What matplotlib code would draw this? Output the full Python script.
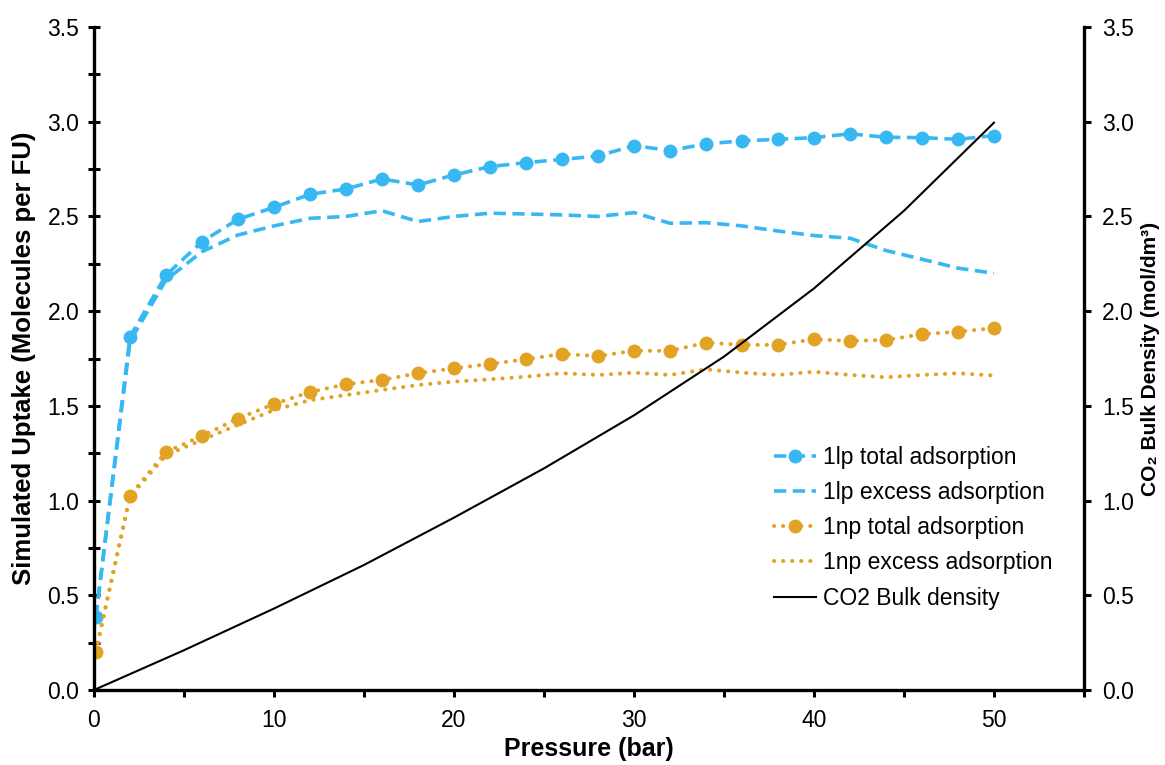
import matplotlib
matplotlib.use('Agg')
import matplotlib.pyplot as plt
from matplotlib.ticker import MultipleLocator, FormatStrFormatter

plt.rcParams['font.family'] = ['Liberation Sans', 'DejaVu Sans']

# ---- data ----
pressure = [0.1, 2, 4, 6, 8, 10, 12, 14, 16, 18, 20, 22, 24, 26, 28, 30,
            32, 34, 36, 38, 40, 42, 44, 46, 48, 50]
lp_total = [0.384, 1.865, 2.19, 2.367, 2.485, 2.548, 2.617, 2.645, 2.698, 2.666,
            2.719, 2.763, 2.784, 2.801, 2.819, 2.874, 2.848, 2.883, 2.899, 2.907,
            2.916, 2.936, 2.918, 2.916, 2.907, 2.927]
lp_excess = [0.384, 1.84, 2.165, 2.314, 2.402, 2.45, 2.49, 2.50, 2.53, 2.473,
             2.50, 2.517, 2.513, 2.508, 2.50, 2.52, 2.464, 2.467, 2.45, 2.423,
             2.399, 2.385, 2.32, 2.274, 2.227, 2.20]
np_total = [0.202, 1.026, 1.257, 1.341, 1.433, 1.51, 1.573, 1.614, 1.637, 1.672,
            1.698, 1.721, 1.746, 1.774, 1.763, 1.791, 1.79, 1.834, 1.822, 1.822,
            1.852, 1.843, 1.848, 1.878, 1.892, 1.91]
np_excess = [0.202, 1.02, 1.24, 1.32, 1.40, 1.478, 1.53, 1.557, 1.584, 1.61,
             1.628, 1.64, 1.654, 1.672, 1.663, 1.675, 1.663, 1.693, 1.675, 1.663,
             1.68, 1.663, 1.651, 1.663, 1.672, 1.66]
density_p = [0, 5, 10, 15, 20, 25, 30, 35, 40, 45, 50]
density = [0.0, 0.21, 0.43, 0.66, 0.91, 1.17, 1.45, 1.76, 2.12, 2.53, 2.995]

labels = ['1lp total adsorption', '1lp excess adsorption', '1np total adsorption',
          '1np excess adsorption', 'CO2 Bulk density']

blue = '#38B8F2'
orange = '#E2A224'

fig = plt.figure(figsize=(11.65, 7.65), dpi=100)
ax = fig.add_axes([94/1165, 75/765, 990/1165, 663/765])
ax2 = ax.twinx()

dash = (0, (3.4, 1.8))
dot = (0, (0.05, 2.2))
l1, = ax.plot(pressure, lp_total, color=blue, lw=2.6, linestyle=dash,
              marker='o', markersize=9, label=labels[0])
l2, = ax.plot(pressure, lp_excess, color=blue, lw=2.6, linestyle=dash, label=labels[1])
l3, = ax.plot(pressure, np_total, color=orange, lw=2.9, linestyle=dot,
              marker='o', markersize=9, label=labels[2])
l4, = ax.plot(pressure, np_excess, color=orange, lw=2.9, linestyle=dot, label=labels[3])
for ln in (l3, l4):
    ln.set_dash_capstyle('round')
l5, = ax2.plot(density_p, density, color='black', lw=1.5, label=labels[4])

for a in (ax, ax2):
    a.set_xlim(0, 55)
    a.set_ylim(0, 3.5)
    a.spines['top'].set_visible(False)
ax.spines['right'].set_visible(False)
ax2.spines['left'].set_visible(False)
for s in ('left', 'bottom'):
    ax.spines[s].set_linewidth(2.4)
ax2.spines['right'].set_linewidth(2.4)
ax2.spines['bottom'].set_visible(False)

ax.xaxis.set_major_locator(MultipleLocator(10))
ax.xaxis.set_minor_locator(MultipleLocator(5))
ax.yaxis.set_major_locator(MultipleLocator(0.5))
ax.yaxis.set_minor_locator(MultipleLocator(0.25))
ax.yaxis.set_major_formatter(FormatStrFormatter('%.1f'))
ax2.yaxis.set_major_locator(MultipleLocator(0.5))
ax2.yaxis.set_major_formatter(FormatStrFormatter('%.1f'))

ax.tick_params(axis='x', which='both', direction='out', length=5, width=2.2,
               labelsize=16.5, pad=9)
ax.tick_params(axis='y', which='both', direction='inout', length=9, width=2.2,
               labelsize=16.5, pad=6)
ax2.tick_params(axis='y', which='major', direction='out', length=5, width=2.2,
                labelsize=16.5, pad=8)

ax.set_xlabel('Pressure (bar)', fontsize=18, fontweight='bold', labelpad=3)
ax.set_ylabel('Simulated Uptake (Molecules per FU)', fontsize=18.5,
              fontweight='bold', labelpad=8)
ax2.set_ylabel('CO₂ Bulk Density (mol/dm³)', fontsize=15, fontweight='bold',
               family=['Liberation Sans', 'DejaVu Sans'])
ax2.yaxis.set_label_coords(1.058, 0.5)

leg = ax2.legend(handles=[l1, l2, l3, l4, l5], loc='upper left',
                 bbox_to_anchor=(774/1165, 1 - 446/765), bbox_transform=fig.transFigure,
                 frameon=False, fontsize=16.5, handlelength=1.85, handletextpad=0.3,
                 labelspacing=0.53, borderpad=0, borderaxespad=0)

fig.savefig('out.png', dpi=100)
